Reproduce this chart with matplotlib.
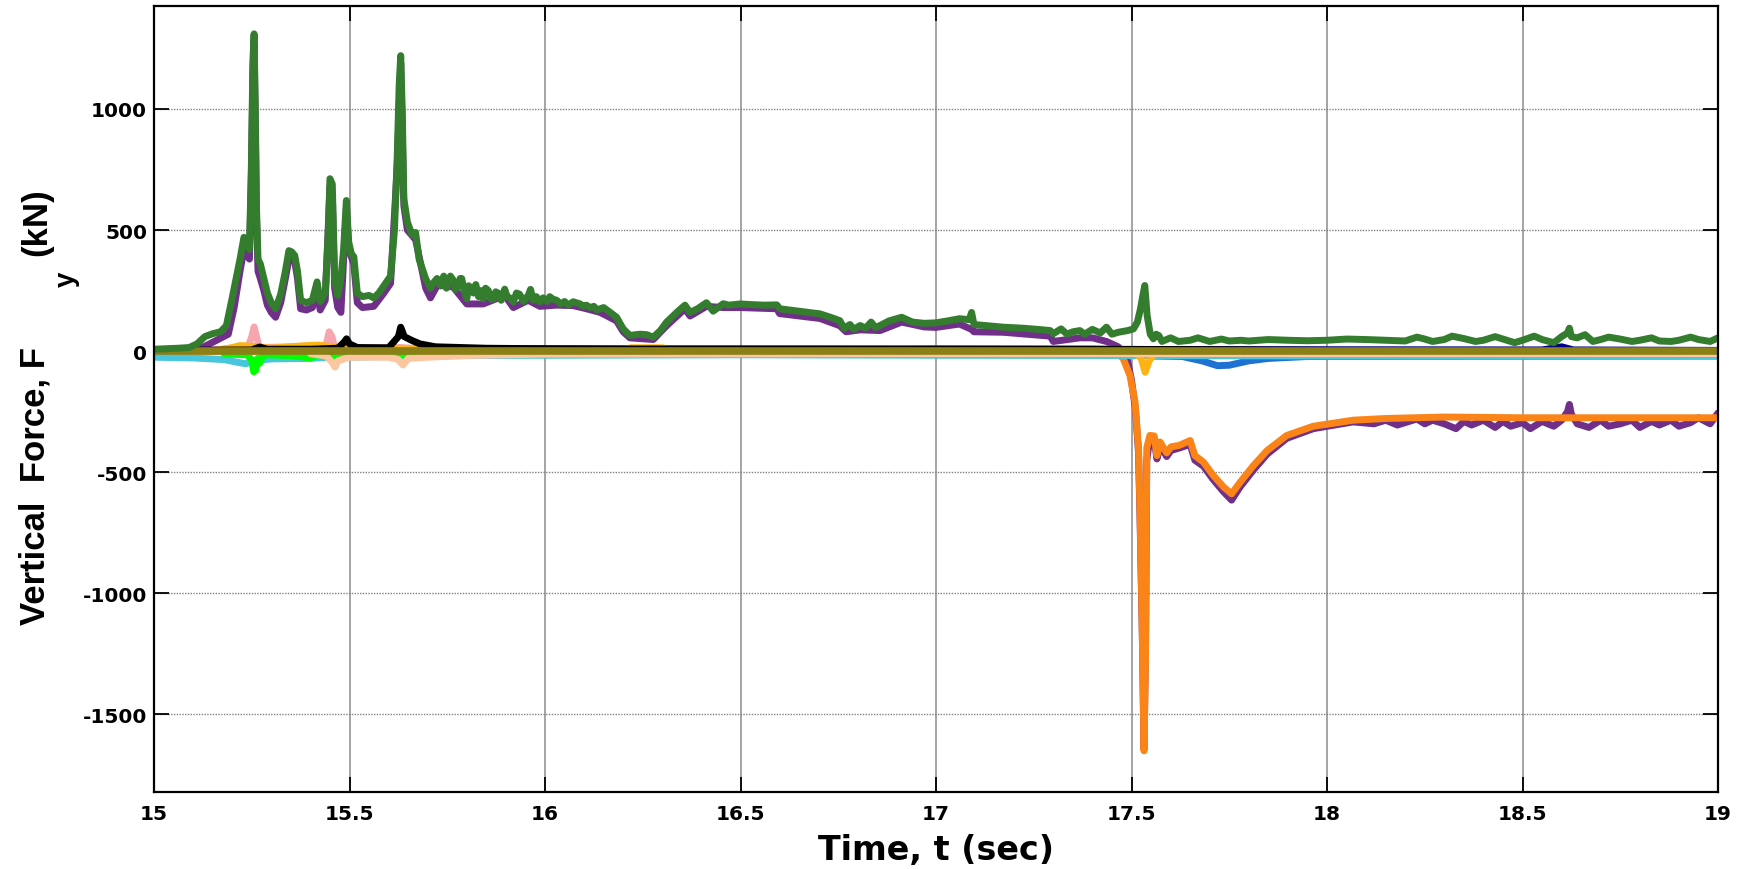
import matplotlib
matplotlib.use("Agg")
import matplotlib.pyplot as plt
from matplotlib import font_manager

# ---- time axis / tick labels ----
x_ticks = [15, 15.5, 16, 16.5, 17, 17.5, 18, 18.5, 19]
x_tick_labels = ["15", "15.5", "16", "16.5", "17", "17.5", "18", "18.5", "19"]
y_ticks = [-1500, -1000, -500, 0, 500, 1000]
y_tick_labels = ["-1500", "-1000", "-500", "0", "500", "1000"]

# ---- force histories (kN) ----
green_t = [15.00, 15.03, 15.06, 15.09, 15.11, 15.13, 15.15, 15.17, 15.185, 15.20, 15.21, 15.22, 15.23, 15.238,
           15.244, 15.249, 15.253, 15.256, 15.259, 15.262, 15.266, 15.272, 15.281, 15.29, 15.30, 15.311, 15.324,
           15.336, 15.345, 15.352, 15.36, 15.367, 15.375, 15.39, 15.405, 15.417, 15.425, 15.438, 15.446, 15.450,
           15.456, 15.462, 15.47, 15.478, 15.485, 15.492, 15.498, 15.505, 15.511, 15.52, 15.533, 15.55, 15.562,
           15.575, 15.588, 15.605, 15.615, 15.622, 15.627, 15.631, 15.635, 15.639, 15.648, 15.66, 15.669, 15.678,
           15.695, 15.707, 15.716, 15.724, 15.733, 15.741, 15.748, 15.752, 15.758, 15.765, 15.771, 15.778, 15.783,
           15.787, 15.793, 15.80, 15.805, 15.81, 15.817, 15.823, 15.83, 15.836, 15.842, 15.848, 15.855, 15.862,
           15.868, 15.874, 15.88, 15.888, 15.897, 15.903, 15.91, 15.919, 15.927, 15.935, 15.945, 15.957, 15.963,
           15.97, 15.978, 15.987, 15.995, 16.005, 16.012, 16.02, 16.03, 16.04, 16.05, 16.06, 16.072, 16.08,
           16.09, 16.098, 16.106, 16.115, 16.125, 16.133, 16.141, 16.15, 16.166, 16.183, 16.20, 16.217, 16.243,
           16.26, 16.277, 16.295, 16.311, 16.337, 16.358, 16.371, 16.39, 16.413, 16.43, 16.456, 16.47, 16.499,
           16.53, 16.56, 16.593, 16.60, 16.65, 16.703, 16.73, 16.754, 16.765, 16.78, 16.79, 16.806, 16.82, 16.834,
           16.845, 16.857, 16.88, 16.912, 16.94, 16.97, 17.00, 17.03, 17.06, 17.085, 17.091, 17.097, 17.13, 17.172,
           17.22, 17.26, 17.292, 17.30, 17.32, 17.335, 17.35, 17.368, 17.38, 17.40, 17.42, 17.436, 17.45, 17.466,
           17.49, 17.505, 17.515, 17.523, 17.529, 17.534, 17.540, 17.548, 17.556, 17.563, 17.57, 17.578, 17.585,
           17.60, 17.62, 17.65, 17.67, 17.70, 17.73, 17.75, 17.78, 17.80, 17.85, 17.90, 17.95, 18.00, 18.05,
           18.10, 18.15, 18.20, 18.23, 18.25, 18.27, 18.30, 18.32, 18.35, 18.38, 18.40, 18.43, 18.45, 18.48,
           18.50, 18.53, 18.55, 18.58, 18.60, 18.615, 18.62, 18.625, 18.64, 18.66, 18.68, 18.70, 18.72, 18.75,
           18.78, 18.80, 18.83, 18.85, 18.88, 18.90, 18.93, 18.95, 18.98, 19.00]
green_v = [8, 10, 12, 15, 30, 60, 72, 80, 105, 220, 300, 380, 470, 440,
           420, 760, 1200, 1310, 1000, 600, 380, 360, 300, 240, 200, 175, 235,
           330, 415, 410, 395, 330, 210, 200, 210, 286, 205, 240, 500, 712,
           690, 300, 230, 300, 420, 622, 450, 400, 390, 240, 225, 230, 220,
           240, 270, 310, 500, 800, 1097, 1220, 987, 629, 533, 480, 490, 380,
           298, 260, 285, 300, 270, 310, 260, 280, 310, 294, 255, 270, 300,
           300, 250, 216, 270, 260, 240, 275, 225, 250, 216, 260, 250, 215,
           215, 245, 240, 210, 256, 225, 220, 203, 240, 235, 205, 230, 255,
           210, 225, 203, 220, 205, 225, 215, 210, 195, 205, 190, 204, 200,
           195, 185, 190, 180, 185, 170, 175, 180, 161, 140, 92, 65, 70,
           68, 58, 85, 120, 160, 190, 160, 175, 200, 165, 196, 190, 195,
           192, 190, 191, 175, 165, 154, 140, 126, 95, 110, 90, 106, 95, 120,
           98, 106, 125, 140, 120, 115, 117, 125, 134, 130, 160, 110, 105, 99,
           95, 90, 85, 72, 92, 70, 80, 85, 70, 90, 75, 99, 70, 78,
           85, 92, 120, 175, 230, 271, 147, 70, 51, 70, 64, 40, 45,
           55, 40, 45, 55, 40, 50, 42, 45, 42, 48, 45, 43, 45, 50,
           48, 45, 42, 58, 50, 40, 48, 62, 52, 40, 45, 60, 50, 35,
           45, 62, 48, 35, 60, 75, 95, 60, 55, 68, 40, 48, 58, 50,
           40, 45, 55, 42, 40, 45, 58, 48, 40, 55]

purple_t = [15.00, 15.10, 15.13, 15.16, 15.19, 15.205, 15.22, 15.23, 15.244, 15.249, 15.253, 15.256, 15.259,
            15.262, 15.266, 15.272, 15.281, 15.29, 15.30, 15.311, 15.324, 15.336, 15.345, 15.36, 15.367, 15.375,
            15.39, 15.405, 15.417, 15.425, 15.438, 15.450, 15.456, 15.462, 15.47, 15.478, 15.485, 15.492, 15.498,
            15.511, 15.52, 15.533, 15.562, 15.588, 15.605, 15.622, 15.631, 15.639, 15.648, 15.669, 15.695, 15.707,
            15.724, 15.741, 15.765, 15.80, 15.842, 15.897, 15.919, 15.957, 15.987, 16.03, 16.072, 16.106, 16.141,
            16.183, 16.20, 16.217, 16.277, 16.311, 16.358, 16.371, 16.413, 16.456, 16.499, 16.593, 16.60, 16.703,
            16.754, 16.77, 16.806, 16.857, 16.912, 16.97, 17.00, 17.06, 17.091, 17.097, 17.172, 17.292, 17.30,
            17.368, 17.40, 17.436, 17.466, 17.48, 17.49, 17.50, 17.51, 17.518, 17.522, 17.528, 17.532, 17.536,
            17.539, 17.547, 17.558, 17.565, 17.573, 17.59, 17.601, 17.622, 17.65, 17.662, 17.684, 17.709, 17.735,
            17.756, 17.778, 17.812, 17.847, 17.897, 17.965, 18.067, 18.12, 18.15, 18.18, 18.20, 18.23, 18.25,
            18.27, 18.30, 18.33, 18.35, 18.37, 18.40, 18.43, 18.45, 18.47, 18.50, 18.52, 18.55, 18.58, 18.60,
            18.615, 18.62, 18.625, 18.64, 18.67, 18.70, 18.72, 18.75, 18.78, 18.80, 18.83, 18.85, 18.88, 18.90,
            18.93, 18.95, 18.98, 19.00]
purple_v = [0, 5, 20, 45, 70, 180, 330, 420, 380, 720, 1150, 1270, 950,
            560, 330, 300, 250, 190, 160, 140, 200, 300, 380, 370, 300, 175,
            170, 180, 250, 170, 210, 680, 650, 260, 180, 160, 380, 590, 420,
            360, 200, 180, 185, 240, 280, 760, 1190, 600, 500, 460, 260, 220,
            270, 270, 265, 195, 195, 230, 180, 210, 185, 190, 188, 175, 160,
            125, 80, 55, 48, 105, 175, 145, 185, 180, 180, 175, 155, 135,
            105, 80, 88, 85, 120, 100, 98, 112, 90, 80, 78, 62, 40,
            55, 55, 40, 18, -10, -40, -120, -240, -420, -700, -1200, -1640, -1200,
            -450, -360, -365, -445, -390, -435, -410, -400, -385, -450, -475, -530, -580,
            -615, -560, -490, -425, -360, -320, -292, -300, -285, -305, -295, -280, -300,
            -285, -300, -320, -290, -305, -285, -315, -290, -310, -295, -320, -290, -310, -285,
            -250, -220, -260, -300, -315, -285, -310, -300, -285, -315, -290, -305, -285, -310,
            -295, -275, -300, -255]

orange_t = [15.00, 17.44, 17.46, 17.479, 17.496, 17.509, 17.518, 17.522, 17.527, 17.532, 17.536, 17.539, 17.547,
            17.558, 17.565, 17.573, 17.59, 17.601, 17.622, 17.65, 17.662, 17.684, 17.709, 17.735, 17.756, 17.778,
            17.812, 17.847, 17.897, 17.965, 18.067, 18.15, 18.30, 18.50, 18.70, 19.00]
orange_v = [0, 0, 5, -32, -100, -210, -403, -679, -1100, -1650, -1250, -400, -348,
            -350, -431, -375, -420, -395, -389, -369, -431, -458, -513, -560, -589, -541,
            -472, -410, -348, -310, -285, -278, -272, -275, -275, -275]

olive_t = [15.00, 19.00]
olive_v = [0, 0]

cyan_t = [15.00, 15.10, 15.18, 15.22, 15.235, 15.25, 15.30, 15.40, 15.45, 15.47, 15.49, 15.60, 15.80,
          16.00, 16.50, 17.00, 17.50, 18.00, 18.50, 19.00]
cyan_v = [-25, -28, -35, -48, -52, -40, -32, -30, -25, -40, -25, -22, -18,
          -17, -15, -17, -18, -20, -20, -20]

lime_t = [15.18, 15.24, 15.25, 15.255, 15.26, 15.265, 15.27, 15.28, 15.35, 15.40, 15.42, 15.46, 15.47,
          15.50, 15.60, 15.65, 15.70, 15.80]
lime_v = [-12, -15, -40, -85, -80, -30, -50, -15, -18, -28, -15, -20, -30,
          -22, -18, -15, -12, -10]

pink_t = [15.15, 15.20, 15.24, 15.25, 15.256, 15.262, 15.27, 15.35, 15.40, 15.44, 15.448, 15.455, 15.462,
          15.55, 15.63, 15.70]
pink_v = [5, 12, 15, 60, 100, 60, 15, 18, 20, 25, 80, 60, 15,
          12, 15, 8]

black_t = [15.00, 15.25, 15.27, 15.29, 15.40, 15.47, 15.485, 15.4925, 15.50, 15.52, 15.60, 15.625, 15.631,
           15.64, 15.66, 15.68, 15.72, 15.85, 16.00, 16.20, 16.40, 17.00, 17.40, 17.70, 18.00, 19.00]
black_v = [3, 5, 17, 8, 8, 12, 35, 51, 30, 15, 14, 60, 99,
           60, 44, 30, 18, 12, 10, 9, 9, 9, 8, 6, 3, 3]

peach_t = [15.40, 15.44, 15.455, 15.463, 15.47, 15.50, 15.60, 15.625, 15.637, 15.65, 15.70, 15.80, 16.00,
           17.00, 19.00]
peach_v = [-10, -20, -45, -66, -40, -25, -25, -35, -57, -30, -25, -18, -12,
           -10, -10]

amber_t = [15.15, 15.20, 15.22, 15.25, 15.30, 15.38, 15.42, 15.47, 15.55, 16.20, 16.22, 16.30, 16.32,
           16.90, 17.00, 17.40, 17.50, 17.525, 17.535, 17.545, 17.56, 18.00, 19.00]
amber_v = [0, 15, 23, 20, 12, 22, 25, 15, 10, 6, 14, 14, 6,
           6, 10, 10, 5, -30, -87, -40, -5, 0, 0]

blue_t = [17.55, 17.63, 17.68, 17.72, 17.75, 17.80, 17.85, 17.95, 19.00]
blue_v = [-20, -22, -40, -60, -58, -40, -30, -22, -20]

navy_t = [15.00, 15.45, 15.50, 15.53, 18.55, 18.60, 18.63, 19.00]
navy_v = [3, 5, 22, 10, 5, 18, 5, 3]

# ---- figure ----
W, H = 1747, 870
fig = plt.figure(figsize=(W / 100, H / 100), dpi=100)
left, right, top, bottom = 154 / W, 1718 / W, 1 - 7 / H, 1 - 793 / H
ax = fig.add_axes([left, bottom, right - left, top - bottom])

lw = 5.0
style = dict(lw=lw, solid_joinstyle="round", solid_capstyle="round")
ax.plot(purple_t, purple_v, color="#70308a", **style)
ax.plot(orange_t, orange_v, color="#fa8418", **style)
ax.plot(navy_t, navy_v, color="#00008b", **style)
ax.plot(blue_t, blue_v, color="#1e73d2", **style)
ax.plot(cyan_t, cyan_v, color="#48c6dd", **style)
ax.plot(pink_t, pink_v, color="#f6a6ae", **style)
ax.plot(amber_t, amber_v, color="#fcb415", **style)
ax.plot(black_t, black_v, color="#000000", **style)
ax.plot(lime_t, lime_v, color="#00ff00", **style)
ax.plot(peach_t, peach_v, color="#fcc7a0", **style)
ax.plot(olive_t, olive_v, color="#8b8016", lw=5.5, solid_capstyle="butt")
ax.plot(green_t, green_v, color="#347d2f", **style)

ax.set_xlim(15, 19)
ax.set_ylim(-1820, 1425)

# grid: solid verticals, dotted horizontals
for xv in x_ticks:
    ax.axvline(xv, color="#8c8c8c", lw=1.1, zorder=0)
for yv in y_ticks:
    ax.axhline(yv, color="#808080", lw=1.0, ls=(0, (1, 1)), zorder=0)

ax.set_xticks(x_ticks)
ax.set_xticklabels(x_tick_labels)
ax.set_yticks(y_ticks)
ax.set_yticklabels(y_tick_labels)
ax.tick_params(direction="in", length=11, width=1.3, top=True, right=True,
               labelsize=14.5, colors="black")
ax.tick_params(axis="x", pad=9)
ax.tick_params(axis="y", pad=5)
for lab in ax.get_xticklabels() + ax.get_yticklabels():
    lab.set_fontfamily("DejaVu Sans")
    lab.set_fontweight("bold")
for sp in ax.spines.values():
    sp.set_linewidth(1.6)
    sp.set_color("black")

# x label
ax.set_xlabel("Time, t (sec)", fontsize=24, fontweight="bold", family="DejaVu Sans", va="top")
ax.xaxis.set_label_coords(936 / W, 1 - 834 / H, transform=fig.transFigure)

# y label built from pieces so the F subscript sits low
try:
    font_manager.findfont(font_manager.FontProperties(family="Liberation Sans Narrow", weight="bold"),
                          fallback_to_default=False)
    yfam, ysize = ["Liberation Sans Narrow", "Liberation Sans"], 30
except Exception:
    yfam, ysize = ["Liberation Sans", "DejaVu Sans"], 25
ykw = dict(rotation=90, rotation_mode="anchor", ha="left", va="baseline",
           fontweight="bold", fontstyle="normal", family=yfam)
fig.text(45 / W, 1 - 625 / H, "Vertical  Force, F", fontsize=ysize, **ykw)
fig.text(74 / W, 1 - 287 / H, "y", fontsize=ysize * 0.8, **ykw)
fig.text(46 / W, 1 - 256 / H, "(kN)", fontsize=ysize, **ykw)

fig.savefig("out.png", dpi=100, facecolor="white")
